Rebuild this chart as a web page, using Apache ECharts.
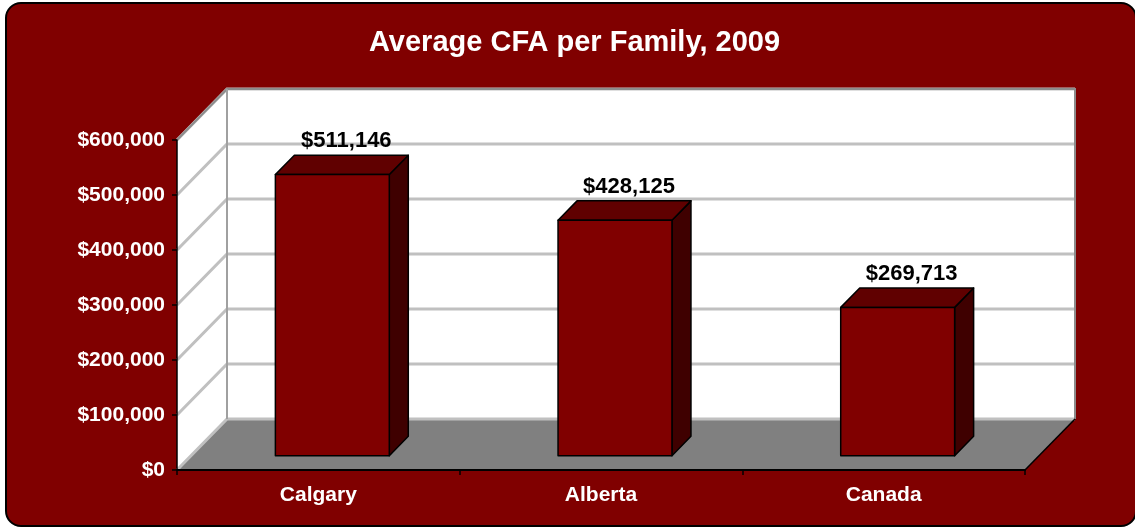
<!DOCTYPE html>
<html>
<head>
<meta charset="utf-8">
<script src="https://cdn.jsdelivr.net/npm/echarts@6/dist/echarts.min.js"></script>
<style>
  html, body { margin: 0; padding: 0; background: #fff; width: 1135px; height: 529px; overflow: hidden; }
  #frame { position: absolute; left: 5px; top: 2px; width: 1132px; height: 525px; box-sizing: border-box;
           border: 2px solid #000; border-radius: 16px; background: #800000; }
  #main { position: absolute; left: 0; top: 0; width: 1135px; height: 529px; }
</style>
</head>
<body>
<div id="frame"></div>
<div id="main"></div>
<script>
const categories = ['Calgary', 'Alberta', 'Canada']
const values = [511146, 428125, 269713]
const yTicks = [0, 100000, 200000, 300000, 400000, 500000, 600000]

const FONT = "'Liberation Sans', Arial, sans-serif"
// depth of the fake 3d box (px)
const DX = 50, DY = -51
// where the bars sit in that depth, 0 = front, 1 = back wall
const BAR_FRONT = 0.28, BAR_BACK = 0.66
const BAR_WIDTH = 0.403

const money = v => '$' + String(v).replace(/\B(?=(\d{3})+(?!\d))/g, ',')

// walls, floor and gridlines
const renderFrame = (params, api) => {
  const cs = params.coordSys
  const x0 = cs.x, x1 = cs.x + cs.width
  const yt = cs.y, yb = cs.y + cs.height
  const children = []
  children.push({type: 'polygon', shape: {points: [[x0, yb], [x0, yt], [x0 + DX, yt + DY], [x0 + DX, yb + DY]]}, style: {fill: '#fff'}})
  children.push({type: 'rect', shape: {x: x0 + DX, y: yt + DY, width: cs.width, height: cs.height}, style: {fill: '#fff'}})
  children.push({type: 'polygon', shape: {points: [[x0, yb], [x0 + DX, yb + DY], [x1 + DX, yb + DY], [x1, yb]]}, style: {fill: '#808080'}})
  yTicks.forEach(t => {
    const y = api.coord([0, t])[1]
    children.push({type: 'polyline', shape: {points: [[x0, y], [x0 + DX, y + DY], [x1 + DX, y + DY]]},
      style: {stroke: '#c0c0c0', lineWidth: 3, fill: null}})
  })
  // wall edges
  children.push({type: 'polyline', shape: {points: [[x0, yt], [x0 + DX, yt + DY], [x1 + DX, yt + DY], [x1 + DX, yb + DY]]},
    style: {stroke: '#8c8c8c', lineWidth: 2, fill: null}})
  children.push({type: 'line', shape: {x1: x0 + DX, y1: yt + DY, x2: x0 + DX, y2: yb + DY},
    style: {stroke: '#a0a0a0', lineWidth: 2}})
  children.push({type: 'line', shape: {x1: x1 + DX, y1: yb + DY, x2: x1, y2: yb},
    style: {stroke: '#000', lineWidth: 1.5}})
  return {type: 'group', children: children}
}

// 3d looking bars
const renderBar = (params, api) => {
  const i = api.value(0), v = api.value(1)
  const top = api.coord([i, v]), base = api.coord([i, 0])
  const bw = api.size([1, 0])[0] * BAR_WIDTH
  const fx = BAR_FRONT * DX, fy = BAR_FRONT * DY
  const bx = (BAR_BACK - BAR_FRONT) * DX, by = (BAR_BACK - BAR_FRONT) * DY
  const l = top[0] - bw / 2 + fx, r = l + bw
  const t = top[1] + fy, b = base[1] + fy
  const edge = {stroke: '#000', lineWidth: 1.5, lineJoin: 'round'}
  return {
    type: 'group',
    children: [
      {type: 'polygon', shape: {points: [[r, t], [r + bx, t + by], [r + bx, b + by], [r, b]]}, style: Object.assign({fill: '#3f0000'}, edge)},
      {type: 'polygon', shape: {points: [[l, t], [l + bx, t + by], [r + bx, t + by], [r, t]]}, style: Object.assign({fill: '#600000'}, edge)},
      {type: 'rect', shape: {x: l, y: t, width: bw, height: b - t}, style: Object.assign({fill: '#800000'}, edge)},
      {type: 'text', x: top[0] + fx + 14, y: t + by - 14,
        style: {text: money(v), fill: '#000', font: 'bold 22px ' + FONT, align: 'center', verticalAlign: 'middle'}}
    ]
  }
}

const chart = echarts.init(document.getElementById('main'))
chart.setOption({
  backgroundColor: 'transparent',
  animation: false,
  title: {
    text: 'Average CFA per Family, 2009',
    left: 364,
    top: 23,
    textStyle: {color: '#fff', fontSize: 29, fontWeight: 'bold', fontFamily: FONT}
  },
  grid: {left: 177, right: 110, top: 140, bottom: 59},
  xAxis: {
    type: 'category',
    data: categories,
    z: 10,
    axisLine: {lineStyle: {color: '#000', width: 2}},
    axisTick: {show: true, length: 5, lineStyle: {color: '#000', width: 1.5}},
    axisLabel: {color: '#fff', fontSize: 21, fontWeight: 'bold', fontFamily: FONT, margin: 15}
  },
  yAxis: {
    type: 'value',
    min: 0,
    max: 600000,
    interval: 100000,
    z: 10,
    axisLine: {show: true, lineStyle: {color: '#000', width: 1.5}},
    axisTick: {show: true, length: 5, lineStyle: {color: '#000', width: 1.5}},
    splitLine: {show: false},
    axisLabel: {color: '#fff', fontSize: 21, fontWeight: 'bold', fontFamily: FONT, margin: 12, formatter: money}
  },
  series: [
    {type: 'custom', name: 'frame', silent: true, z: 1, clip: false, renderItem: renderFrame, data: [[0, 0]]},
    {type: 'custom', name: 'CFA', silent: true, z: 3, clip: false, renderItem: renderBar,
      data: values.map((v, i) => [i, v])}
  ]
})
</script>
</body>
</html>
